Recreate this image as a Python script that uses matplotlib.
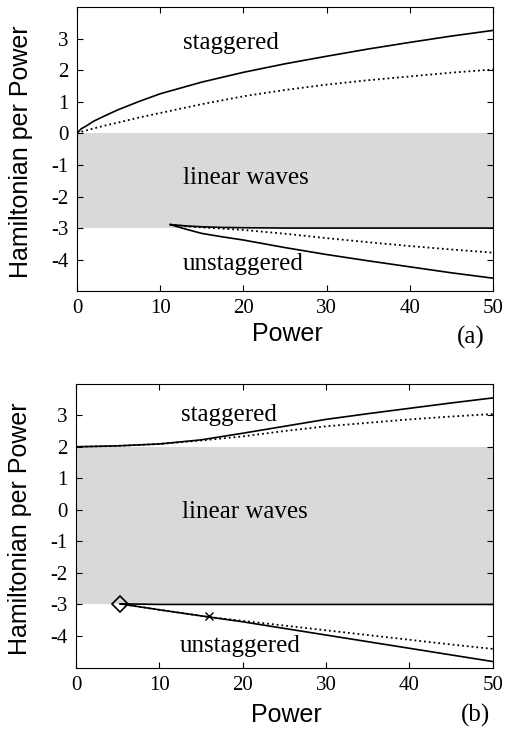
import matplotlib
matplotlib.use("Agg")
import matplotlib.pyplot as plt

plt.rcParams['axes.unicode_minus'] = False

# ---- data ----
# panel (a)
a_stag_x = [0, 0.5, 1, 2, 3.5, 5, 7.5, 10, 15, 20, 25, 30, 35, 40, 45, 50]
a_stag_solid = [0, 0.15, 0.22, 0.39, 0.58, 0.76, 1.02, 1.26, 1.63, 1.94, 2.21, 2.45, 2.68, 2.89, 3.09, 3.27]
a_stag_dot = [0, 0.05, 0.09, 0.16, 0.26, 0.35, 0.51, 0.65, 0.93, 1.18, 1.38, 1.55, 1.69, 1.81, 1.93, 2.03]

a_unst_x = [11.2, 13, 15, 17.5, 20, 25, 30, 35, 40, 45, 50]
a_unst_flat = [-2.89, -2.93, -2.96, -2.98, -2.99, -3.0, -3.0, -3.0, -3.0, -3.0, -3.0]
a_unst_solid = [-2.89, -3.03, -3.17, -3.28, -3.38, -3.62, -3.84, -4.04, -4.23, -4.42, -4.59]
a_unst_dot = [-2.89, -2.94, -2.98, -3.02, -3.06, -3.18, -3.32, -3.45, -3.57, -3.68, -3.78]

# panel (b)
b_stag_x = [0, 5, 10, 15, 20, 25, 30, 35, 40, 45, 50]
b_stag_solid = [2.0, 2.03, 2.09, 2.22, 2.43, 2.65, 2.87, 3.05, 3.22, 3.39, 3.55]
b_stag_dot = [2.0, 2.03, 2.09, 2.2, 2.33, 2.5, 2.65, 2.76, 2.87, 2.96, 3.04]

b_unst_x = [5.3, 10, 16, 20, 25, 30, 35, 40, 45, 50]
b_unst_flat = [-2.98, -3.0, -3.0, -3.0, -3.0, -3.0, -3.0, -3.0, -3.0, -3.0]
b_unst_solid = [-2.98, -3.17, -3.4, -3.55, -3.76, -3.97, -4.18, -4.39, -4.6, -4.81]
b_unst_dot = [-2.98, -3.17, -3.4, -3.52, -3.67, -3.82, -3.97, -4.12, -4.27, -4.41]

b_diamond = (5.3, -2.98)
b_cross = (16.0, -3.38)

# shaded band of linear waves (lower, upper)
a_band = (-3, 0)
b_band = (-3, 2)

serif = ['Liberation Serif', 'DejaVu Serif']
sans = ['Liberation Sans', 'DejaVu Sans']

fig = plt.figure(figsize=(5.05, 7.37), dpi=100)
ax_a = fig.add_axes([0.1525, 0.605, 0.824, 0.385])
ax_b = fig.add_axes([0.1505, 0.0943, 0.825, 0.385])


def style_axes(ax, band):
    ax.fill_between([0, 50], band[0], band[1], color='0.85', lw=0, zorder=0)
    ax.set_xlim(0, 50)
    ax.set_ylim(-5, 4)
    ax.set_xticks([0, 10, 20, 30, 40, 50])
    ax.set_yticks([-4, -3, -2, -1, 0, 1, 2, 3])
    ax.tick_params(direction='in', top=True, right=True, length=4, width=0.8,
                   labelsize=15, pad=6)
    for lab in ax.get_xticklabels() + ax.get_yticklabels():
        lab.set_family(serif)
    for sp in ax.spines.values():
        sp.set_linewidth(0.8)
    ax.set_xlabel('Power', fontsize=18, family=sans)
    ax.set_ylabel('Hamiltonian per Power', fontsize=18, family=sans)
    ax.yaxis.set_label_coords(-0.105, 0.49)


# panel (a)
style_axes(ax_a, a_band)
ax_a.plot(a_stag_x, a_stag_solid, 'k-', lw=1.2)
ax_a.plot(a_stag_x, a_stag_dot, 'k:', lw=1.3)
ax_a.plot(a_unst_x, a_unst_flat, 'k-', lw=1.2)
ax_a.plot(a_unst_x, a_unst_solid, 'k-', lw=1.2)
ax_a.plot(a_unst_x, a_unst_dot, 'k:', lw=1.3)
ax_a.text(12.7, 2.68, 'staggered', fontsize=18, family=serif, va='baseline')
ax_a.text(12.7, -1.61, 'linear waves', fontsize=18, family=serif, va='baseline')
ax_a.text(12.7, -4.32, 'unstaggered', fontsize=18, family=serif, va='baseline')
ax_a.xaxis.set_label_coords(0.505, -0.11)

# panel (b)
style_axes(ax_b, b_band)
ax_b.plot(b_stag_x, b_stag_solid, 'k-', lw=1.2)
ax_b.plot(b_stag_x, b_stag_dot, 'k:', lw=1.3)
ax_b.plot(b_unst_x, b_unst_flat, 'k-', lw=1.2)
ax_b.plot(b_unst_x, b_unst_solid, 'k-', lw=1.2)
ax_b.plot(b_unst_x, b_unst_dot, 'k:', lw=1.3)
ax_b.plot(*b_diamond, marker='D', ms=8, mfc='none', mec='k', mew=1.2)
ax_b.plot(*b_cross, marker='x', ms=6, color='k', mew=1.0)
ax_b.text(12.6, 2.81, 'staggered', fontsize=18, family=serif, va='baseline')
ax_b.text(12.7, -0.26, 'linear waves', fontsize=18, family=serif, va='baseline')
ax_b.text(12.5, -4.52, 'unstaggered', fontsize=18, family=serif, va='baseline')
ax_b.xaxis.set_label_coords(0.505, -0.125)

fig.text(0.933, 0.534, '(a)', fontsize=18, family=serif, ha='center', va='baseline')
fig.text(0.942, 0.021, '(b)', fontsize=18, family=serif, ha='center', va='baseline')

fig.savefig('out.png', dpi=100)
